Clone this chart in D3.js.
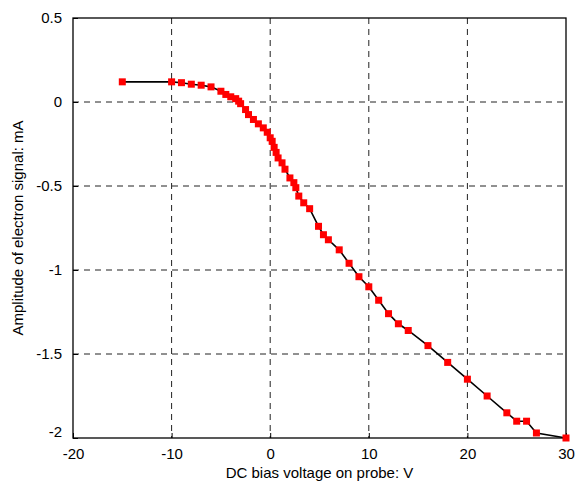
<!DOCTYPE html>
<html>
<head>
<meta charset="utf-8">
<script src="https://cdn.jsdelivr.net/npm/d3@7"></script>
<style>
  body { margin: 0; background: #fff; }
  text { font-family: "Liberation Sans", Arial, sans-serif; fill: #000; }
</style>
</head>
<body>
<main></main>
<script>
const width = 581;
const height = 485;
const margin = {top: 18, right: 15, bottom: 47, left: 73};

// bias voltage (V) and electron signal amplitude (mA)
const voltage = [-15, -10, -9, -8, -7, -6, -5, -4.5, -4, -3.5, -3.2, -3, -2.5, -2.2, -1.7, -1.2,
  -0.7, -0.3, 0, 0.2, 0.4, 0.6, 0.8, 1.2, 1.5, 2, 2.4, 2.6, 2.9, 3.4, 4, 4.9, 5.4, 5.9, 7, 8,
  9, 10, 11, 12, 13, 14, 16, 18, 20, 22, 24, 25, 26, 27, 30];
const signal = [0.12, 0.12, 0.115, 0.106, 0.1, 0.09, 0.064, 0.045, 0.031, 0.02, 0.005, -0.01, -0.045,
  -0.075, -0.104, -0.13, -0.154, -0.18, -0.213, -0.234, -0.27, -0.3, -0.333, -0.362, -0.4, -0.452,
  -0.48, -0.51, -0.56, -0.6, -0.635, -0.74, -0.79, -0.82, -0.88, -0.96, -1.04, -1.1, -1.18, -1.26,
  -1.32, -1.36, -1.45, -1.55, -1.65, -1.75, -1.85, -1.9, -1.9, -1.97, -2.0];
const xTicks = [-20, -10, 0, 10, 20, 30];
const yTicks = [0.5, 0, -0.5, -1, -1.5, -2];

const x = d3.scaleLinear().domain([-20, 30]).range([margin.left, width - margin.right]);
const y = d3.scaleLinear().domain([-2, 0.5]).range([height - margin.bottom, margin.top]);

const svg = d3.select('main').append('svg')
  .attr('width', width)
  .attr('height', height);

// grid
svg.append('g')
  .selectAll('line')
  .data(xTicks.slice(1, -1))
  .enter().append('line')
  .attr('x1', d => x(d)).attr('x2', d => x(d))
  .attr('y1', margin.top).attr('y2', height - margin.bottom)
  .style('stroke', '#222').style('stroke-dasharray', '6,5').style('stroke-width', 1);

svg.append('g')
  .selectAll('line')
  .data(yTicks.slice(1, -1))
  .enter().append('line')
  .attr('x1', margin.left).attr('x2', width - margin.right)
  .attr('y1', d => y(d)).attr('y2', d => y(d))
  .style('stroke', '#222').style('stroke-dasharray', '6,5').style('stroke-width', 1);

// axes (plain hyphen minus like the original)
const xAxis = svg.append('g')
  .attr('transform', `translate(0,${height - margin.bottom})`)
  .call(d3.axisBottom(x).tickValues(xTicks).tickSize(-5).tickPadding(10).tickFormat(d => String(d)));
const yAxis = svg.append('g')
  .attr('transform', `translate(${margin.left},0)`)
  .call(d3.axisLeft(y).tickValues(yTicks).tickSize(-5).tickPadding(11).tickFormat(d => String(d)));

[xAxis, yAxis].forEach(g => {
  g.select('.domain').remove();
  g.selectAll('line').style('stroke', '#000');
  g.selectAll('text').style('font-size', '15px').style('font-family', '"Liberation Sans", Arial, sans-serif');
});
yAxis.selectAll('text').filter(d => d === -2).attr('dy', '-0.1em');

// box
svg.append('rect')
  .attr('x', margin.left).attr('y', margin.top)
  .attr('width', width - margin.right - margin.left)
  .attr('height', height - margin.bottom - margin.top)
  .style('fill', 'none').style('stroke', '#000').style('stroke-width', 1.3);

// data line + markers
const pts = voltage.map((v, i) => [v, signal[i]]);
svg.append('path')
  .datum(pts)
  .attr('d', d3.line().x(d => x(d[0])).y(d => y(d[1])))
  .style('fill', 'none').style('stroke', '#000').style('stroke-width', 1.6);

svg.append('g')
  .selectAll('rect')
  .data(pts)
  .enter().append('rect')
  .attr('x', d => x(d[0]) - 3.5).attr('y', d => y(d[1]) - 3.5)
  .attr('width', 7).attr('height', 7)
  .style('fill', '#ff0000');

// labels
svg.append('text')
  .attr('x', (margin.left + width - margin.right) / 2)
  .attr('y', 478)
  .attr('text-anchor', 'middle')
  .style('font-size', '15px')
  .text('DC bias voltage on probe: V');

svg.append('text')
  .attr('transform', `translate(23,${(margin.top + height - margin.bottom) / 2}) rotate(-90)`)
  .attr('text-anchor', 'middle')
  .style('font-size', '15px')
  .text('Amplitude of electron signal: mA');
</script>
</body>
</html>
